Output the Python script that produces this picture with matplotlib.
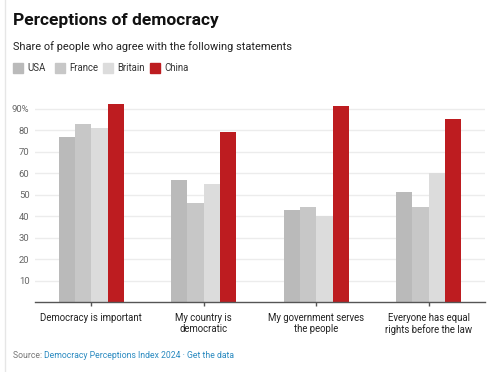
import matplotlib
matplotlib.use("Agg")
import matplotlib.pyplot as plt
import numpy as np
from matplotlib.patches import Rectangle
from matplotlib.lines import Line2D

plt.rcParams["font.family"] = ["Roboto", "DejaVu Sans"]

categories = ["Democracy is important", "My country is\ndemocratic",
              "My government serves\nthe people", "Everyone has equal\nrights before the law"]
countries = ["USA", "France", "Britain", "China"]
usa = [77, 57, 43, 51]
france = [83, 46, 44, 44]
britain = [81, 55, 40, 60]
china = [92, 79, 91, 85]
yticks = [10, 20, 30, 40, 50, 60, 70, 80, 90]
ytick_labels = ["10", "20", "30", "40", "50", "60", "70", "80", "90%"]

colors = ["#bababa", "#c7c7c7", "#dcdcdc", "#bd1c20"]
W, H = 490, 372

fig = plt.figure(figsize=(W / 100, H / 100), dpi=100)
ax = fig.add_axes([35 / W, 1 - 302 / H, 450 / W, 202 / H])

x = np.arange(len(categories))
bw = 0.145
for i, (vals, col) in enumerate(zip([usa, france, britain, china], colors)):
    ax.bar(x + (i - 1.5) * bw, vals, width=bw, color=col, zorder=2)

ax.set_xlim(-0.5, 3.5)
ax.set_ylim(0, 94)
ax.set_yticks(yticks)
ax.set_yticklabels(ytick_labels)
ax.set_xticks(x)
ax.set_xticklabels(categories, fontsize=6.9, color="#222222", linespacing=1.1)
ax.tick_params(axis="y", length=0, labelsize=6.8, labelcolor="#666666", pad=4)
ax.tick_params(axis="x", length=3, width=1, color="#555555", pad=5)
ax.grid(axis="y", color="#ececec", linewidth=1, zorder=0)
for s in ["top", "right", "left"]:
    ax.spines[s].set_visible(False)
ax.spines["bottom"].set_color("#555555")
ax.spines["bottom"].set_linewidth(1)
ax.spines["bottom"].set_zorder(3)

# left border line
fig.add_artist(Line2D([5 / W, 5 / W], [0, 1], color="#e6e6e6", lw=1))

fig.text(13 / W, 1 - 21 / H, "Perceptions of democracy", fontsize=12.5,
         fontweight="bold", color="#111111", va="center")
fig.text(13 / W, 1 - 47 / H, "Share of people who agree with the following statements",
         fontsize=7.9, color="#222222", va="center")

# legend
lx = [13, 55, 103, 150]
for px, name, col in zip(lx, countries, colors):
    fig.add_artist(Rectangle((px / W, 1 - 73 / H), 10 / W, 10 / H, color=col,
                             transform=fig.transFigure))
    fig.text((px + 14) / W, 1 - 68 / H, name, fontsize=6.9, color="#333333", va="center")

# source line
renderer = fig.canvas.get_renderer()
t = fig.text(13 / W, 1 - 356 / H, "Source: ", fontsize=6.2, color="#777777", va="center")
ext = t.get_window_extent(renderer)
fig.text(ext.x1 / W, 1 - 356 / H, "Democracy Perceptions Index 2024 \u00b7 Get the data",
         fontsize=6.2, color="#2a8ac0", va="center")

fig.savefig("out.png", dpi=100)
